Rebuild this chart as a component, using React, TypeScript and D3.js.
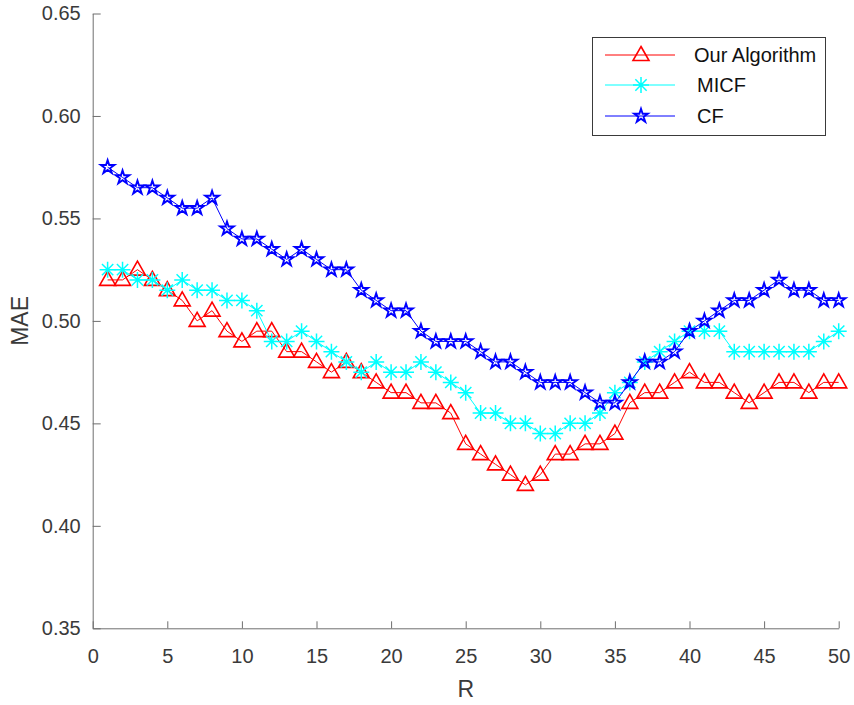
import React, { useEffect, useRef } from 'react';
import * as d3 from 'd3';

const rValues = d3.range(1, 51);

const ourAlgorithm = [
  0.520, 0.520, 0.525, 0.520, 0.515, 0.510, 0.500, 0.505, 0.495, 0.490,
  0.495, 0.495, 0.485, 0.485, 0.480, 0.475, 0.480, 0.475, 0.470, 0.465,
  0.465, 0.460, 0.460, 0.455, 0.440, 0.435, 0.430, 0.425, 0.420, 0.425,
  0.435, 0.435, 0.440, 0.440, 0.445, 0.460, 0.465, 0.465, 0.470, 0.475,
  0.470, 0.470, 0.465, 0.460, 0.465, 0.470, 0.470, 0.465, 0.470, 0.470,
];

const micf = [
  0.525, 0.525, 0.520, 0.520, 0.515, 0.520, 0.515, 0.515, 0.510, 0.510,
  0.505, 0.490, 0.490, 0.495, 0.490, 0.485, 0.480, 0.475, 0.480, 0.475,
  0.475, 0.480, 0.475, 0.470, 0.465, 0.455, 0.455, 0.450, 0.450, 0.445,
  0.445, 0.450, 0.450, 0.455, 0.465, 0.470, 0.480, 0.485, 0.490, 0.495,
  0.495, 0.495, 0.485, 0.485, 0.485, 0.485, 0.485, 0.485, 0.490, 0.495,
];

const cf = [
  0.575, 0.570, 0.565, 0.565, 0.560, 0.555, 0.555, 0.560, 0.545, 0.540,
  0.540, 0.535, 0.530, 0.535, 0.530, 0.525, 0.525, 0.515, 0.510, 0.505,
  0.505, 0.495, 0.490, 0.490, 0.490, 0.485, 0.480, 0.480, 0.475, 0.470,
  0.470, 0.470, 0.465, 0.460, 0.460, 0.470, 0.480, 0.480, 0.485, 0.495,
  0.500, 0.505, 0.510, 0.510, 0.515, 0.520, 0.515, 0.515, 0.510, 0.510,
];

const xTicks = [0, 5, 10, 15, 20, 25, 30, 35, 40, 45, 50];
const yTicks = [0.35, 0.40, 0.45, 0.50, 0.55, 0.60, 0.65];

const seriesNames = ['Our Algorithm', 'MICF', 'CF'];
const seriesColors = ['#ff0000', '#00ffff', '#0000ff'];
const seriesMarkers = ['triangle', 'asterisk', 'star'];

const FONT = '"Liberation Sans", Arial, Helvetica, sans-serif';

function drawMarker(g: any, kind: string, color: string) {
  if (kind === 'triangle') {
    g.append('path')
      .attr('d', 'M0,-8.5 L8,5.5 L-8,5.5 Z')
      .attr('fill', 'none')
      .attr('stroke', color)
      .attr('stroke-width', 1.6);
  } else if (kind === 'asterisk') {
    const r = 8;
    const d = r * Math.SQRT1_2;
    g.append('path')
      .attr('d', `M${-r},0L${r},0M0,${-r}L0,${r}M${-d},${-d}L${d},${d}M${-d},${d}L${d},${-d}`)
      .attr('fill', 'none')
      .attr('stroke', color)
      .attr('stroke-width', 1.5);
  } else {
    const star = d3.symbol().type(d3.symbolStar).size(58);
    g.append('path')
      .attr('d', star())
      .attr('fill', 'none')
      .attr('stroke', color)
      .attr('stroke-width', 1.9);
  }
}

export default function App() {
  const svgRef = useRef<SVGSVGElement>(null);

  useEffect(() => {
    if (!svgRef.current) return;
    const width = 854;
    const height = 705;
    const margin = { left: 92.7, right: 854 - 838.7, top: 13.5, bottom: 705 - 628.3 };

    const svg = d3.select(svgRef.current);
    svg.selectAll('*').remove();

    const x = d3.scaleLinear().domain([0, 50]).range([margin.left, width - margin.right]);
    const y = d3.scaleLinear().domain([0.35, 0.65]).range([height - margin.bottom, margin.top]);

    const axisColor = '#6e6e6e';
    const textColor = '#3a3a3a';

    // axes (box off, ticks inward)
    const xAxis = svg.append('g')
      .attr('transform', `translate(0,${y(0.35)})`)
      .call(d3.axisBottom(x).tickValues(xTicks).tickSizeInner(-7).tickSizeOuter(0).tickPadding(21).tickFormat(d3.format('d')));
    const yAxis = svg.append('g')
      .attr('transform', `translate(${x(0)},0)`)
      .call(d3.axisLeft(y).tickValues(yTicks).tickSizeInner(-8).tickSizeOuter(0).tickPadding(12).tickFormat(d3.format('.2f')));

    [xAxis, yAxis].forEach(a => {
      a.select('.domain').attr('stroke', axisColor).attr('stroke-width', 1);
      a.selectAll('.tick line').attr('stroke', axisColor);
      a.selectAll('.tick text')
        .attr('fill', textColor)
        .style('font-family', FONT)
        .style('font-size', '20px');
    });

    svg.append('text')
      .attr('x', (x(0) + x(50)) / 2)
      .attr('y', 697)
      .attr('text-anchor', 'middle')
      .attr('fill', textColor)
      .style('font-family', FONT)
      .style('font-size', '23px')
      .text('R');

    svg.append('text')
      .attr('transform', `translate(28,${(y(0.35) + y(0.65)) / 2}) rotate(-90)`)
      .attr('text-anchor', 'middle')
      .attr('fill', textColor)
      .style('font-family', FONT)
      .style('font-size', '23px')
      .text('MAE');

    const allSeries = [ourAlgorithm, micf, cf];
    const line = d3.line<number>()
      .x((_, i) => x(rValues[i]))
      .y(d => y(d));

    allSeries.forEach((values, si) => {
      const color = seriesColors[si];
      const g = svg.append('g');
      g.append('path')
        .datum(values)
        .attr('fill', 'none')
        .attr('stroke', color)
        .attr('stroke-width', 1)
        .attr('d', line);
      values.forEach((v, i) => {
        const mg = g.append('g').attr('transform', `translate(${x(rValues[i])},${y(v)})`);
        drawMarker(mg, seriesMarkers[si], color);
      });
    });

    // legend
    const legend = svg.append('g');
    legend.append('rect')
      .attr('x', 592.5)
      .attr('y', 37.5)
      .attr('width', 233)
      .attr('height', 98)
      .attr('fill', '#ffffff')
      .attr('stroke', '#3a3a3a')
      .attr('stroke-width', 1);
    const rowY = [55, 85, 116];
    seriesNames.forEach((name, i) => {
      const color = seriesColors[i];
      legend.append('line')
        .attr('x1', 605).attr('x2', 675)
        .attr('y1', rowY[i]).attr('y2', rowY[i])
        .attr('stroke', color).attr('stroke-width', 1);
      const mg = legend.append('g').attr('transform', `translate(641,${rowY[i]})`);
      drawMarker(mg, seriesMarkers[i], color);
      legend.append('text')
        .attr('x', i === 0 ? 694 : 697)
        .attr('y', rowY[i])
        .attr('dy', '0.35em')
        .attr('fill', '#111')
        .style('font-family', FONT)
        .style('font-size', '20px')
        .text(name);
    });
  }, []);

  return (
    <svg
      ref={svgRef}
      width={854}
      height={705}
      style={{ position: 'absolute', left: 0, top: 0, background: '#fff' }}
    />
  );
}
